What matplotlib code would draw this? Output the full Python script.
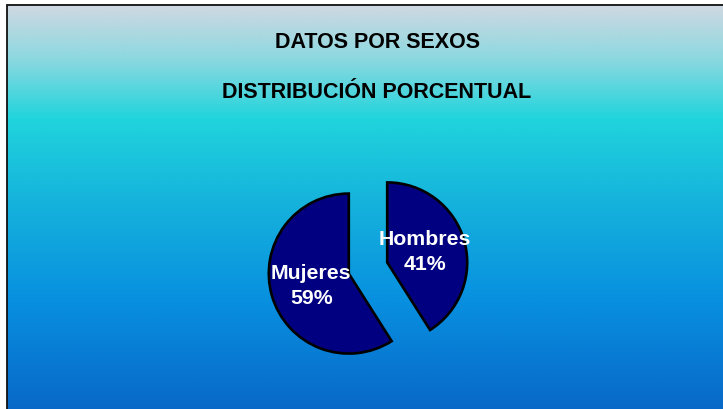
import numpy as np
import matplotlib
matplotlib.use("Agg")
import matplotlib.pyplot as plt
from matplotlib.colors import LinearSegmentedColormap
from matplotlib.patches import Rectangle

categories = ["Hombres", "Mujeres"]
values = [41, 59]
title_lines = ["DATOS POR SEXOS", "DISTRIBUCIÓN PORCENTUAL"]

W, H = 723, 410
fig = plt.figure(figsize=(W / 100, H / 100), dpi=100)
fig.patch.set_facecolor("white")
ax = fig.add_axes([0, 0, 1, 1])
ax.set_xlim(0, W)
ax.set_ylim(0, H)
ax.set_aspect("equal")
ax.axis("off")

# background gradient (top -> bottom)
top_y = 5.5
stops = [(0.0, "#D0D8E2"), (54 / 404, "#8CD8E0"), (114 / 404, "#20D4DC"),
         (194 / 404, "#16B4DC"), (294 / 404, "#0890E0"), (1.0, "#0868C8")]
cmap = LinearSegmentedColormap.from_list("bg", stops)
grad = np.linspace(0, 1, 512).reshape(-1, 1)
ax.imshow(grad, cmap=cmap, aspect="auto", origin="upper",
          extent=[6.5, W + 5, -2, H - top_y], zorder=0, interpolation="bilinear")
ax.add_patch(Rectangle((6.5, -10), W + 20, H - top_y + 10, fill=False,
                       edgecolor="#111111", linewidth=1.3, zorder=1))

font = ["Liberation Sans", "DejaVu Sans"]
ax.text(377.5, H - 43, title_lines[0], ha="center", va="center",
        fontsize=15.5, fontweight="bold", family=font, color="black", zorder=3)
ax.text(377, H - 92, title_lines[1], ha="center", va="center",
        fontsize=15.5, fontweight="bold", family=font, color="black", zorder=3)

labels = [f"{c}\n{v}%" for c, v in zip(categories, values)]
wedges, texts = ax.pie(values, labels=labels, startangle=90, counterclock=False,
                       explode=[20, 20], radius=80, center=(368, H - 269),
                       colors=["#000080", "#000080"], labeldistance=0.49,
                       wedgeprops=dict(edgecolor="black", linewidth=1.9),
                       frame=True,
                       textprops=dict(color="white", fontsize=15.3, fontweight="bold",
                                      family=font, linespacing=1.4))
for t in texts:
    t.set_ha("center")
    t.set_va("center")
    t.set_multialignment("center")
    t.set_zorder(4)
for w in wedges:
    w.set_zorder(2)
ax.set_xlim(0, W)
ax.set_ylim(0, H)
ax.axis("off")

fig.savefig("out.png", dpi=100)
